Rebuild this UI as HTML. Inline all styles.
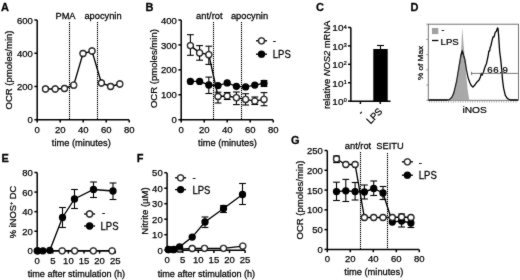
<!DOCTYPE html>
<html><head><meta charset="utf-8"><style>
html,body{margin:0;padding:0;background:#fff;}
svg{display:block;}
#w{width:520px;height:280px;will-change:transform;}
text{font-family:"Liberation Sans",sans-serif;fill:#000;stroke:#000;stroke-width:0.25;}
</style></head><body>
<div id="w">
<svg width="520" height="280" viewBox="0 0 520 280">
<defs><filter id="bl" x="0" y="0" width="520" height="280" filterUnits="userSpaceOnUse"><feConvolveMatrix order="3" kernelMatrix="1 2 1 2 28 2 1 2 1"/></filter></defs>
<rect width="520" height="280" fill="#fff"/>
<g filter="url(#bl)">
<text transform="translate(1.00,10.60) scale(1,1.06)" font-size="11" text-anchor="start" font-weight="bold" >A</text>
<line x1="37.2" y1="20" x2="37.2" y2="120.45" stroke="#000" stroke-width="1.5" />
<line x1="36.45" y1="119.7" x2="129" y2="119.7" stroke="#000" stroke-width="1.5" />
<line x1="34.400000000000006" y1="119.7" x2="37.2" y2="119.7" stroke="#000" stroke-width="1.5" />
<text transform="translate(32.80,123.30) scale(1,1.0)" font-size="9.5" text-anchor="end" font-weight="normal" >0</text>
<line x1="34.400000000000006" y1="86.46666666666667" x2="37.2" y2="86.46666666666667" stroke="#000" stroke-width="1.5" />
<text transform="translate(32.80,90.07) scale(1,1.0)" font-size="9.5" text-anchor="end" font-weight="normal" >200</text>
<line x1="34.400000000000006" y1="53.233333333333334" x2="37.2" y2="53.233333333333334" stroke="#000" stroke-width="1.5" />
<text transform="translate(32.80,56.83) scale(1,1.0)" font-size="9.5" text-anchor="end" font-weight="normal" >400</text>
<line x1="34.400000000000006" y1="20.0" x2="37.2" y2="20.0" stroke="#000" stroke-width="1.5" />
<text transform="translate(32.80,23.60) scale(1,1.0)" font-size="9.5" text-anchor="end" font-weight="normal" >600</text>
<line x1="37.2" y1="119.7" x2="37.2" y2="122.5" stroke="#000" stroke-width="1.5" />
<text transform="translate(37.20,132.70) scale(1,1.0)" font-size="9.5" text-anchor="middle" font-weight="normal" >0</text>
<line x1="60.2" y1="119.7" x2="60.2" y2="122.5" stroke="#000" stroke-width="1.5" />
<text transform="translate(60.20,132.70) scale(1,1.0)" font-size="9.5" text-anchor="middle" font-weight="normal" >20</text>
<line x1="83.2" y1="119.7" x2="83.2" y2="122.5" stroke="#000" stroke-width="1.5" />
<text transform="translate(83.20,132.70) scale(1,1.0)" font-size="9.5" text-anchor="middle" font-weight="normal" >40</text>
<line x1="106.2" y1="119.7" x2="106.2" y2="122.5" stroke="#000" stroke-width="1.5" />
<text transform="translate(106.20,132.70) scale(1,1.0)" font-size="9.5" text-anchor="middle" font-weight="normal" >60</text>
<line x1="129.2" y1="119.7" x2="129.2" y2="122.5" stroke="#000" stroke-width="1.5" />
<text transform="translate(129.20,132.70) scale(1,1.0)" font-size="9.5" text-anchor="middle" font-weight="normal" >80</text>
<text transform="translate(12.4,70) rotate(-90) scale(1,0.9)" x="0" y="0" font-size="9.55" text-anchor="middle" >OCR (pmoles/min)</text>
<text transform="translate(81.30,146.30) scale(1,1.06)" font-size="9.3" text-anchor="middle" font-weight="normal" >time (minutes)</text>
<line x1="69.5" y1="22" x2="69.5" y2="119" stroke="#000" stroke-width="1.1" stroke-dasharray="1.2 0.8"/>
<line x1="97.5" y1="22" x2="97.5" y2="119" stroke="#000" stroke-width="1.1" stroke-dasharray="1.2 0.8"/>
<text transform="translate(65.50,19.30) scale(1,1.06)" font-size="9.3" text-anchor="middle" font-weight="normal" >PMA</text>
<text transform="translate(103.00,19.30) scale(1,1.06)" font-size="9.3" text-anchor="middle" font-weight="normal" >apocynin</text>
<polyline points="45.5,89 55.2,89 64.5,88.5 73.7,85.2 83,53.5 92,51 101.4,83 110.6,86.5 119.8,84" fill="none" stroke="#000" stroke-width="1.35"/>
<circle cx="45.5" cy="89" r="3.0" fill="#fff" stroke="#000" stroke-width="1.3"/>
<circle cx="55.2" cy="89" r="3.0" fill="#fff" stroke="#000" stroke-width="1.3"/>
<circle cx="64.5" cy="88.5" r="3.0" fill="#fff" stroke="#000" stroke-width="1.3"/>
<circle cx="73.7" cy="85.2" r="3.0" fill="#fff" stroke="#000" stroke-width="1.3"/>
<circle cx="83" cy="53.5" r="3.0" fill="#fff" stroke="#000" stroke-width="1.3"/>
<circle cx="92" cy="51" r="3.0" fill="#fff" stroke="#000" stroke-width="1.3"/>
<circle cx="101.4" cy="83" r="3.0" fill="#fff" stroke="#000" stroke-width="1.3"/>
<circle cx="110.6" cy="86.5" r="3.0" fill="#fff" stroke="#000" stroke-width="1.3"/>
<circle cx="119.8" cy="84" r="3.0" fill="#fff" stroke="#000" stroke-width="1.3"/>
<text transform="translate(145.50,10.60) scale(1,1.06)" font-size="11" text-anchor="start" font-weight="bold" >B</text>
<line x1="181.2" y1="20" x2="181.2" y2="120.45" stroke="#000" stroke-width="1.5" />
<line x1="180.45" y1="119.7" x2="273" y2="119.7" stroke="#000" stroke-width="1.5" />
<line x1="178.39999999999998" y1="119.7" x2="181.2" y2="119.7" stroke="#000" stroke-width="1.5" />
<text transform="translate(176.80,123.30) scale(1,1.0)" font-size="9.5" text-anchor="end" font-weight="normal" >0</text>
<line x1="178.39999999999998" y1="94.775" x2="181.2" y2="94.775" stroke="#000" stroke-width="1.5" />
<text transform="translate(176.80,98.38) scale(1,1.0)" font-size="9.5" text-anchor="end" font-weight="normal" >100</text>
<line x1="178.39999999999998" y1="69.85" x2="181.2" y2="69.85" stroke="#000" stroke-width="1.5" />
<text transform="translate(176.80,73.45) scale(1,1.0)" font-size="9.5" text-anchor="end" font-weight="normal" >200</text>
<line x1="178.39999999999998" y1="44.925" x2="181.2" y2="44.925" stroke="#000" stroke-width="1.5" />
<text transform="translate(176.80,48.52) scale(1,1.0)" font-size="9.5" text-anchor="end" font-weight="normal" >300</text>
<line x1="178.39999999999998" y1="20.0" x2="181.2" y2="20.0" stroke="#000" stroke-width="1.5" />
<text transform="translate(176.80,23.60) scale(1,1.0)" font-size="9.5" text-anchor="end" font-weight="normal" >400</text>
<line x1="181.2" y1="119.7" x2="181.2" y2="122.5" stroke="#000" stroke-width="1.5" />
<text transform="translate(181.20,132.70) scale(1,1.0)" font-size="9.5" text-anchor="middle" font-weight="normal" >0</text>
<line x1="204.2" y1="119.7" x2="204.2" y2="122.5" stroke="#000" stroke-width="1.5" />
<text transform="translate(204.20,132.70) scale(1,1.0)" font-size="9.5" text-anchor="middle" font-weight="normal" >20</text>
<line x1="227.2" y1="119.7" x2="227.2" y2="122.5" stroke="#000" stroke-width="1.5" />
<text transform="translate(227.20,132.70) scale(1,1.0)" font-size="9.5" text-anchor="middle" font-weight="normal" >40</text>
<line x1="250.2" y1="119.7" x2="250.2" y2="122.5" stroke="#000" stroke-width="1.5" />
<text transform="translate(250.20,132.70) scale(1,1.0)" font-size="9.5" text-anchor="middle" font-weight="normal" >60</text>
<line x1="273.2" y1="119.7" x2="273.2" y2="122.5" stroke="#000" stroke-width="1.5" />
<text transform="translate(273.20,132.70) scale(1,1.0)" font-size="9.5" text-anchor="middle" font-weight="normal" >80</text>
<text transform="translate(156.8,68.6) rotate(-90) scale(1,0.9)" x="0" y="0" font-size="9.55" text-anchor="middle" >OCR (pmoles/min)</text>
<text transform="translate(227.50,146.30) scale(1,1.06)" font-size="9.3" text-anchor="middle" font-weight="normal" >time (minutes)</text>
<line x1="213.5" y1="22" x2="213.5" y2="119" stroke="#000" stroke-width="1.1" stroke-dasharray="1.2 0.8"/>
<line x1="241.5" y1="22" x2="241.5" y2="119" stroke="#000" stroke-width="1.1" stroke-dasharray="1.2 0.8"/>
<text transform="translate(209.30,19.30) scale(1,1.06)" font-size="9.3" text-anchor="middle" font-weight="normal" >ant/rot</text>
<text transform="translate(249.50,19.30) scale(1,1.06)" font-size="9.3" text-anchor="middle" font-weight="normal" >apocynin</text>
<polyline points="190.39999999999998,81.4 199.6,81.4 208.79999999999998,85 218.0,85.6 227.2,82.9 236.39999999999998,86.3 245.59999999999997,86.9 254.79999999999998,85.1 264.0,83.4" fill="none" stroke="#000" stroke-width="1.35"/>
<line x1="208.79999999999998" y1="77.1" x2="208.79999999999998" y2="93.5" stroke="#000" stroke-width="1.1" />
<line x1="205.39999999999998" y1="77.1" x2="212.2" y2="77.1" stroke="#000" stroke-width="1.1" />
<line x1="205.39999999999998" y1="93.5" x2="212.2" y2="93.5" stroke="#000" stroke-width="1.1" />
<line x1="264.0" y1="80.5" x2="264.0" y2="86.5" stroke="#000" stroke-width="1.1" />
<line x1="260.6" y1="80.5" x2="267.4" y2="80.5" stroke="#000" stroke-width="1.1" />
<line x1="260.6" y1="86.5" x2="267.4" y2="86.5" stroke="#000" stroke-width="1.1" />
<circle cx="190.39999999999998" cy="81.4" r="3.0" fill="#000" stroke="#000" stroke-width="1.3"/>
<circle cx="199.6" cy="81.4" r="3.0" fill="#000" stroke="#000" stroke-width="1.3"/>
<circle cx="208.79999999999998" cy="85" r="3.0" fill="#000" stroke="#000" stroke-width="1.3"/>
<circle cx="218.0" cy="85.6" r="3.0" fill="#000" stroke="#000" stroke-width="1.3"/>
<circle cx="227.2" cy="82.9" r="3.0" fill="#000" stroke="#000" stroke-width="1.3"/>
<circle cx="236.39999999999998" cy="86.3" r="3.0" fill="#000" stroke="#000" stroke-width="1.3"/>
<circle cx="245.59999999999997" cy="86.9" r="3.0" fill="#000" stroke="#000" stroke-width="1.3"/>
<circle cx="254.79999999999998" cy="85.1" r="3.0" fill="#000" stroke="#000" stroke-width="1.3"/>
<circle cx="264.0" cy="83.4" r="3.0" fill="#000" stroke="#000" stroke-width="1.3"/>
<polyline points="190.39999999999998,45.6 199.6,52.9 208.79999999999998,54.7 218.0,96.5 227.2,96 236.39999999999998,97.7 245.59999999999997,99.4 254.79999999999998,101.1 264.0,99.4" fill="none" stroke="#000" stroke-width="1.35"/>
<line x1="190.39999999999998" y1="34.7" x2="190.39999999999998" y2="55.3" stroke="#000" stroke-width="1.1" />
<line x1="186.99999999999997" y1="34.7" x2="193.79999999999998" y2="34.7" stroke="#000" stroke-width="1.1" />
<line x1="186.99999999999997" y1="55.3" x2="193.79999999999998" y2="55.3" stroke="#000" stroke-width="1.1" />
<line x1="199.6" y1="45.6" x2="199.6" y2="60.2" stroke="#000" stroke-width="1.1" />
<line x1="196.2" y1="45.6" x2="203.0" y2="45.6" stroke="#000" stroke-width="1.1" />
<line x1="196.2" y1="60.2" x2="203.0" y2="60.2" stroke="#000" stroke-width="1.1" />
<line x1="208.79999999999998" y1="46.2" x2="208.79999999999998" y2="64.4" stroke="#000" stroke-width="1.1" />
<line x1="205.39999999999998" y1="46.2" x2="212.2" y2="46.2" stroke="#000" stroke-width="1.1" />
<line x1="205.39999999999998" y1="64.4" x2="212.2" y2="64.4" stroke="#000" stroke-width="1.1" />
<line x1="218.0" y1="92.2" x2="218.0" y2="103" stroke="#000" stroke-width="1.1" />
<line x1="214.6" y1="92.2" x2="221.4" y2="92.2" stroke="#000" stroke-width="1.1" />
<line x1="214.6" y1="103" x2="221.4" y2="103" stroke="#000" stroke-width="1.1" />
<line x1="227.2" y1="92.5" x2="227.2" y2="99.5" stroke="#000" stroke-width="1.1" />
<line x1="223.79999999999998" y1="92.5" x2="230.6" y2="92.5" stroke="#000" stroke-width="1.1" />
<line x1="223.79999999999998" y1="99.5" x2="230.6" y2="99.5" stroke="#000" stroke-width="1.1" />
<line x1="236.39999999999998" y1="92" x2="236.39999999999998" y2="104.6" stroke="#000" stroke-width="1.1" />
<line x1="232.99999999999997" y1="92" x2="239.79999999999998" y2="92" stroke="#000" stroke-width="1.1" />
<line x1="232.99999999999997" y1="104.6" x2="239.79999999999998" y2="104.6" stroke="#000" stroke-width="1.1" />
<line x1="245.59999999999997" y1="93.7" x2="245.59999999999997" y2="105" stroke="#000" stroke-width="1.1" />
<line x1="242.19999999999996" y1="93.7" x2="248.99999999999997" y2="93.7" stroke="#000" stroke-width="1.1" />
<line x1="242.19999999999996" y1="105" x2="248.99999999999997" y2="105" stroke="#000" stroke-width="1.1" />
<line x1="254.79999999999998" y1="97" x2="254.79999999999998" y2="104.5" stroke="#000" stroke-width="1.1" />
<line x1="251.39999999999998" y1="97" x2="258.2" y2="97" stroke="#000" stroke-width="1.1" />
<line x1="251.39999999999998" y1="104.5" x2="258.2" y2="104.5" stroke="#000" stroke-width="1.1" />
<line x1="264.0" y1="92.6" x2="264.0" y2="105.7" stroke="#000" stroke-width="1.1" />
<line x1="260.6" y1="92.6" x2="267.4" y2="92.6" stroke="#000" stroke-width="1.1" />
<line x1="260.6" y1="105.7" x2="267.4" y2="105.7" stroke="#000" stroke-width="1.1" />
<circle cx="190.39999999999998" cy="45.6" r="3.0" fill="#fff" stroke="#000" stroke-width="1.3"/>
<circle cx="199.6" cy="52.9" r="3.0" fill="#fff" stroke="#000" stroke-width="1.3"/>
<circle cx="208.79999999999998" cy="54.7" r="3.0" fill="#fff" stroke="#000" stroke-width="1.3"/>
<circle cx="218.0" cy="96.5" r="3.0" fill="#fff" stroke="#000" stroke-width="1.3"/>
<circle cx="227.2" cy="96" r="3.0" fill="#fff" stroke="#000" stroke-width="1.3"/>
<circle cx="236.39999999999998" cy="97.7" r="3.0" fill="#fff" stroke="#000" stroke-width="1.3"/>
<circle cx="245.59999999999997" cy="99.4" r="3.0" fill="#fff" stroke="#000" stroke-width="1.3"/>
<circle cx="254.79999999999998" cy="101.1" r="3.0" fill="#fff" stroke="#000" stroke-width="1.3"/>
<circle cx="264.0" cy="99.4" r="3.0" fill="#fff" stroke="#000" stroke-width="1.3"/>
<line x1="256.0" y1="40.8" x2="267.0" y2="40.8" stroke="#000" stroke-width="1.35" />
<circle cx="261.5" cy="40.8" r="3.0" fill="#fff" stroke="#000" stroke-width="1.3"/>
<line x1="256.0" y1="54.2" x2="267.0" y2="54.2" stroke="#000" stroke-width="1.35" />
<circle cx="261.5" cy="54.2" r="3.0" fill="#000" stroke="#000" stroke-width="1.3"/>
<text transform="translate(272.80,44.20) scale(1,1.06)" font-size="9.5" text-anchor="start" font-weight="normal" >-</text>
<text transform="translate(272.80,57.80) scale(1,1.06)" font-size="9.5" text-anchor="start" font-weight="normal" >LPS</text>
<text transform="translate(315.90,10.90) scale(1,1.06)" font-size="11" text-anchor="start" font-weight="bold" >C</text>
<line x1="350.85" y1="27.47" x2="350.85" y2="101.9" stroke="#000" stroke-width="1.5" />
<line x1="350.1" y1="101.15" x2="390.5" y2="101.15" stroke="#000" stroke-width="1.5" />
<line x1="348.05" y1="101.15" x2="350.85" y2="101.15" stroke="#000" stroke-width="1.5" />
<text transform="translate(343.45,105.15) scale(1,0.93)" font-size="10" text-anchor="end" font-weight="normal" >10</text>
<text transform="translate(343.75,102.25) scale(1,0.9)" font-size="5.4" text-anchor="start" font-weight="normal" >0</text>
<line x1="348.05" y1="82.73" x2="350.85" y2="82.73" stroke="#000" stroke-width="1.5" />
<text transform="translate(343.45,86.73) scale(1,0.93)" font-size="10" text-anchor="end" font-weight="normal" >10</text>
<text transform="translate(343.75,83.83) scale(1,0.9)" font-size="5.4" text-anchor="start" font-weight="normal" >1</text>
<line x1="348.05" y1="64.31" x2="350.85" y2="64.31" stroke="#000" stroke-width="1.5" />
<text transform="translate(343.45,68.31) scale(1,0.93)" font-size="10" text-anchor="end" font-weight="normal" >10</text>
<text transform="translate(343.75,65.41) scale(1,0.9)" font-size="5.4" text-anchor="start" font-weight="normal" >2</text>
<line x1="348.05" y1="45.89" x2="350.85" y2="45.89" stroke="#000" stroke-width="1.5" />
<text transform="translate(343.45,49.89) scale(1,0.93)" font-size="10" text-anchor="end" font-weight="normal" >10</text>
<text transform="translate(343.75,46.99) scale(1,0.9)" font-size="5.4" text-anchor="start" font-weight="normal" >3</text>
<line x1="348.05" y1="27.47" x2="350.85" y2="27.47" stroke="#000" stroke-width="1.5" />
<text transform="translate(343.45,31.47) scale(1,0.93)" font-size="10" text-anchor="end" font-weight="normal" >10</text>
<text transform="translate(343.75,28.57) scale(1,0.9)" font-size="5.4" text-anchor="start" font-weight="normal" >4</text>
<line x1="360.4" y1="101.15" x2="360.4" y2="103.95" stroke="#000" stroke-width="1.5" />
<line x1="380.3" y1="101.15" x2="380.3" y2="103.95" stroke="#000" stroke-width="1.5" />
<rect x="373.3" y="49" width="14.4" height="52.150000000000006" fill="#000"/>
<line x1="380.5" y1="45.5" x2="380.5" y2="49" stroke="#000" stroke-width="1.1" />
<line x1="377" y1="45.5" x2="384" y2="45.5" stroke="#000" stroke-width="1.1" />
<text transform="translate(329.8,64.9) rotate(-90) scale(1,0.92)" font-size="9.35" text-anchor="middle">relative <tspan font-style="italic">NOS2</tspan> mRNA</text>
<text transform="translate(364,113.5) rotate(-45) scale(1,1.06)" font-size="9.3" text-anchor="end">-</text>
<text transform="translate(383,112) rotate(-45) scale(1,1.06)" font-size="9.3" text-anchor="end">LPS</text>
<text transform="translate(410.60,10.70) scale(1,1.06)" font-size="11" text-anchor="start" font-weight="bold" >D</text>
<rect x="428.3" y="24.2" width="90.2" height="76.1" fill="none" stroke="#666" stroke-width="0.9"/>
<path d="M449.8,100.3 L452.5,96 L455,90 L457,82 L459,70 L460.5,58 L461.5,44 L462.3,27.2 L463.2,40 L464.2,52 L465.2,64 L466.3,76 L467.7,90 L469.3,100.3 Z" fill="#a9a9a9"/>
<path d="M428.5,100 L446,100 L449.4,99.6 L452,97 L453.8,93.1 L456.5,82 L458.7,68.8 L460.9,55.5 L462.3,50.6 L463.6,55.5 L464.9,59.9 L466.2,68.8 L468,77.6 L469.8,82.5 L471.1,85.3 L472.9,87.1 L474.6,85.3 L476.8,82.2 L479.1,80 L480.4,76.9 L481.3,73.4 L482.2,75.1 L483.5,72 L484.8,67.6 L486.6,63.2 L487.5,58.8 L488.4,54.3 L488.8,51.2 L489.7,50.8 L490.1,47.7 L491,45.5 L491.9,41.1 L493,37 L494.1,36.8 L495.2,32.4 L496.4,31.2 L497.5,27.9 L498,28.5 L498.6,35.1 L499.1,43.5 L499.7,51.9 L500.8,60.2 L501.9,71.4 L502.5,79.7 L503.6,88.1 L505.3,95.3 L507.5,98.7 L510.3,100 L518,100" fill="none" stroke="#000" stroke-width="1.3" stroke-linejoin="round"/>
<line x1="426.3" y1="100.30" x2="428.3" y2="100.30" stroke="#777" stroke-width="0.8"/>
<line x1="426.3" y1="85.08" x2="428.3" y2="85.08" stroke="#777" stroke-width="0.8"/>
<line x1="426.3" y1="69.86" x2="428.3" y2="69.86" stroke="#777" stroke-width="0.8"/>
<line x1="426.3" y1="54.64" x2="428.3" y2="54.64" stroke="#777" stroke-width="0.8"/>
<line x1="426.3" y1="39.42" x2="428.3" y2="39.42" stroke="#777" stroke-width="0.8"/>
<line x1="426.3" y1="24.20" x2="428.3" y2="24.20" stroke="#777" stroke-width="0.8"/>
<line x1="429" y1="101.9" x2="518" y2="101.9" stroke="#888" stroke-width="1.2" stroke-dasharray="0.8 1.6"/>
<line x1="471.6" y1="73.4" x2="517.9" y2="73.4" stroke="#555" stroke-width="0.8"/>
<line x1="471.6" y1="71.8" x2="471.6" y2="75.1" stroke="#555" stroke-width="0.8"/>
<text transform="translate(487.30,72.90) scale(1,0.93)" font-size="9.6" text-anchor="start" font-weight="normal" letter-spacing="0.6">66.9</text>
<rect x="432" y="28" width="6.3" height="6.1" fill="#a0a0a0"/>
<text transform="translate(441.50,33.20) scale(1,1.06)" font-size="8.5" text-anchor="start" font-weight="normal" >-</text>
<line x1="432" y1="40.5" x2="438.4" y2="40.5" stroke="#000" stroke-width="1.3" />
<text transform="translate(440.60,44.60) scale(1,0.93)" font-size="9.6" text-anchor="start" font-weight="normal" >LPS</text>
<text transform="translate(474.60,112.70) scale(1,0.95)" font-size="10.2" text-anchor="middle" font-weight="normal" >iNOS</text>
<text transform="translate(423.2,63) rotate(-90) scale(1,0.95)" x="0" y="0" font-size="8.2" text-anchor="middle" >% of Max</text>
<text transform="translate(1.50,162.00) scale(1,1.06)" font-size="11" text-anchor="start" font-weight="bold" >E</text>
<line x1="37.2" y1="172.5" x2="37.2" y2="251.55" stroke="#000" stroke-width="1.5" />
<line x1="36.45" y1="250.8" x2="115" y2="250.8" stroke="#000" stroke-width="1.5" />
<line x1="34.400000000000006" y1="250.8" x2="37.2" y2="250.8" stroke="#000" stroke-width="1.5" />
<text transform="translate(32.80,254.40) scale(1,1.0)" font-size="9.5" text-anchor="end" font-weight="normal" >0</text>
<line x1="34.400000000000006" y1="231.22500000000002" x2="37.2" y2="231.22500000000002" stroke="#000" stroke-width="1.5" />
<text transform="translate(32.80,234.83) scale(1,1.0)" font-size="9.5" text-anchor="end" font-weight="normal" >20</text>
<line x1="34.400000000000006" y1="211.65" x2="37.2" y2="211.65" stroke="#000" stroke-width="1.5" />
<text transform="translate(32.80,215.25) scale(1,1.0)" font-size="9.5" text-anchor="end" font-weight="normal" >40</text>
<line x1="34.400000000000006" y1="192.07500000000002" x2="37.2" y2="192.07500000000002" stroke="#000" stroke-width="1.5" />
<text transform="translate(32.80,195.68) scale(1,1.0)" font-size="9.5" text-anchor="end" font-weight="normal" >60</text>
<line x1="34.400000000000006" y1="172.5" x2="37.2" y2="172.5" stroke="#000" stroke-width="1.5" />
<text transform="translate(32.80,176.10) scale(1,1.0)" font-size="9.5" text-anchor="end" font-weight="normal" >80</text>
<line x1="37.2" y1="250.8" x2="37.2" y2="253.60000000000002" stroke="#000" stroke-width="1.5" />
<text transform="translate(37.20,263.80) scale(1,1.0)" font-size="9.5" text-anchor="middle" font-weight="normal" >0</text>
<line x1="52.800000000000004" y1="250.8" x2="52.800000000000004" y2="253.60000000000002" stroke="#000" stroke-width="1.5" />
<text transform="translate(52.80,263.80) scale(1,1.0)" font-size="9.5" text-anchor="middle" font-weight="normal" >5</text>
<line x1="68.4" y1="250.8" x2="68.4" y2="253.60000000000002" stroke="#000" stroke-width="1.5" />
<text transform="translate(68.40,263.80) scale(1,1.0)" font-size="9.5" text-anchor="middle" font-weight="normal" >10</text>
<line x1="84.0" y1="250.8" x2="84.0" y2="253.60000000000002" stroke="#000" stroke-width="1.5" />
<text transform="translate(84.00,263.80) scale(1,1.0)" font-size="9.5" text-anchor="middle" font-weight="normal" >15</text>
<line x1="99.60000000000001" y1="250.8" x2="99.60000000000001" y2="253.60000000000002" stroke="#000" stroke-width="1.5" />
<text transform="translate(99.60,263.80) scale(1,1.0)" font-size="9.5" text-anchor="middle" font-weight="normal" >20</text>
<line x1="115.2" y1="250.8" x2="115.2" y2="253.60000000000002" stroke="#000" stroke-width="1.5" />
<text transform="translate(115.20,263.80) scale(1,1.0)" font-size="9.5" text-anchor="middle" font-weight="normal" >25</text>
<text transform="translate(16.0,212) rotate(-90) scale(1,1.06)" font-size="9.3" text-anchor="middle">% iNOS<tspan font-size="5.5" dy="-3.2">+</tspan><tspan dy="3.2"> DC</tspan></text>
<text transform="translate(76.40,277.00) scale(1,1.06)" font-size="9.1" text-anchor="middle" font-weight="normal" >time after stimulation (h)</text>
<polyline points="37.2,250.8 62.160000000000004,250.8 74.64,250.8 93.36000000000001,250.8 112.08,250.8" fill="none" stroke="#000" stroke-width="1.35"/>
<circle cx="37.2" cy="250.8" r="3.0" fill="#fff" stroke="#000" stroke-width="1.3"/>
<circle cx="62.160000000000004" cy="250.8" r="3.0" fill="#fff" stroke="#000" stroke-width="1.3"/>
<circle cx="74.64" cy="250.8" r="3.0" fill="#fff" stroke="#000" stroke-width="1.3"/>
<circle cx="93.36000000000001" cy="250.8" r="3.0" fill="#fff" stroke="#000" stroke-width="1.3"/>
<circle cx="112.08" cy="250.8" r="3.0" fill="#fff" stroke="#000" stroke-width="1.3"/>
<polyline points="37.8,250.8 42.9,250.8 49.8,250.3 62.5,217.5 74.5,199 93.5,189.5 113,191" fill="none" stroke="#000" stroke-width="1.35"/>
<line x1="62.5" y1="207.5" x2="62.5" y2="227.5" stroke="#000" stroke-width="1.1" />
<line x1="59.1" y1="207.5" x2="65.9" y2="207.5" stroke="#000" stroke-width="1.1" />
<line x1="59.1" y1="227.5" x2="65.9" y2="227.5" stroke="#000" stroke-width="1.1" />
<line x1="74.5" y1="189.5" x2="74.5" y2="208.5" stroke="#000" stroke-width="1.1" />
<line x1="71.1" y1="189.5" x2="77.9" y2="189.5" stroke="#000" stroke-width="1.1" />
<line x1="71.1" y1="208.5" x2="77.9" y2="208.5" stroke="#000" stroke-width="1.1" />
<line x1="93.5" y1="182" x2="93.5" y2="197.5" stroke="#000" stroke-width="1.1" />
<line x1="90.1" y1="182" x2="96.9" y2="182" stroke="#000" stroke-width="1.1" />
<line x1="90.1" y1="197.5" x2="96.9" y2="197.5" stroke="#000" stroke-width="1.1" />
<line x1="113" y1="183" x2="113" y2="199.5" stroke="#000" stroke-width="1.1" />
<line x1="109.6" y1="183" x2="116.4" y2="183" stroke="#000" stroke-width="1.1" />
<line x1="109.6" y1="199.5" x2="116.4" y2="199.5" stroke="#000" stroke-width="1.1" />
<circle cx="37.8" cy="250.8" r="3.0" fill="#000" stroke="#000" stroke-width="1.3"/>
<circle cx="42.9" cy="250.8" r="3.0" fill="#000" stroke="#000" stroke-width="1.3"/>
<circle cx="49.8" cy="250.3" r="3.0" fill="#000" stroke="#000" stroke-width="1.3"/>
<circle cx="62.5" cy="217.5" r="3.0" fill="#000" stroke="#000" stroke-width="1.3"/>
<circle cx="74.5" cy="199" r="3.0" fill="#000" stroke="#000" stroke-width="1.3"/>
<circle cx="93.5" cy="189.5" r="3.0" fill="#000" stroke="#000" stroke-width="1.3"/>
<circle cx="113" cy="191" r="3.0" fill="#000" stroke="#000" stroke-width="1.3"/>
<line x1="84.1" y1="214" x2="95.1" y2="214" stroke="#000" stroke-width="1.35" />
<circle cx="89.6" cy="214" r="3.0" fill="#fff" stroke="#000" stroke-width="1.3"/>
<line x1="84.1" y1="226" x2="95.1" y2="226" stroke="#000" stroke-width="1.35" />
<circle cx="89.6" cy="226" r="3.0" fill="#000" stroke="#000" stroke-width="1.3"/>
<text transform="translate(101.90,216.40) scale(1,1.06)" font-size="9.5" text-anchor="start" font-weight="normal" >-</text>
<text transform="translate(100.60,229.50) scale(1,1.06)" font-size="9.5" text-anchor="start" font-weight="normal" >LPS</text>
<text transform="translate(136.80,161.90) scale(1,1.06)" font-size="11" text-anchor="start" font-weight="bold" >F</text>
<line x1="167.1" y1="173" x2="167.1" y2="250.95" stroke="#000" stroke-width="1.5" />
<line x1="166.35" y1="250.2" x2="245" y2="250.2" stroke="#000" stroke-width="1.5" />
<line x1="164.29999999999998" y1="250.2" x2="167.1" y2="250.2" stroke="#000" stroke-width="1.5" />
<text transform="translate(162.70,253.80) scale(1,1.0)" font-size="9.5" text-anchor="end" font-weight="normal" >0</text>
<line x1="164.29999999999998" y1="234.7" x2="167.1" y2="234.7" stroke="#000" stroke-width="1.5" />
<text transform="translate(162.70,238.30) scale(1,1.0)" font-size="9.5" text-anchor="end" font-weight="normal" >10</text>
<line x1="164.29999999999998" y1="219.2" x2="167.1" y2="219.2" stroke="#000" stroke-width="1.5" />
<text transform="translate(162.70,222.80) scale(1,1.0)" font-size="9.5" text-anchor="end" font-weight="normal" >20</text>
<line x1="164.29999999999998" y1="203.7" x2="167.1" y2="203.7" stroke="#000" stroke-width="1.5" />
<text transform="translate(162.70,207.30) scale(1,1.0)" font-size="9.5" text-anchor="end" font-weight="normal" >30</text>
<line x1="164.29999999999998" y1="188.2" x2="167.1" y2="188.2" stroke="#000" stroke-width="1.5" />
<text transform="translate(162.70,191.80) scale(1,1.0)" font-size="9.5" text-anchor="end" font-weight="normal" >40</text>
<line x1="164.29999999999998" y1="172.7" x2="167.1" y2="172.7" stroke="#000" stroke-width="1.5" />
<text transform="translate(162.70,176.30) scale(1,1.0)" font-size="9.5" text-anchor="end" font-weight="normal" >50</text>
<line x1="167.1" y1="250.2" x2="167.1" y2="253.0" stroke="#000" stroke-width="1.5" />
<text transform="translate(167.10,263.20) scale(1,1.0)" font-size="9.5" text-anchor="middle" font-weight="normal" >0</text>
<line x1="182.7" y1="250.2" x2="182.7" y2="253.0" stroke="#000" stroke-width="1.5" />
<text transform="translate(182.70,263.20) scale(1,1.0)" font-size="9.5" text-anchor="middle" font-weight="normal" >5</text>
<line x1="198.3" y1="250.2" x2="198.3" y2="253.0" stroke="#000" stroke-width="1.5" />
<text transform="translate(198.30,263.20) scale(1,1.0)" font-size="9.5" text-anchor="middle" font-weight="normal" >10</text>
<line x1="213.9" y1="250.2" x2="213.9" y2="253.0" stroke="#000" stroke-width="1.5" />
<text transform="translate(213.90,263.20) scale(1,1.0)" font-size="9.5" text-anchor="middle" font-weight="normal" >15</text>
<line x1="229.5" y1="250.2" x2="229.5" y2="253.0" stroke="#000" stroke-width="1.5" />
<text transform="translate(229.50,263.20) scale(1,1.0)" font-size="9.5" text-anchor="middle" font-weight="normal" >20</text>
<line x1="245.1" y1="250.2" x2="245.1" y2="253.0" stroke="#000" stroke-width="1.5" />
<text transform="translate(245.10,263.20) scale(1,1.0)" font-size="9.5" text-anchor="middle" font-weight="normal" >25</text>
<text transform="translate(148.1,211) rotate(-90) scale(1,0.95)" x="0" y="0" font-size="9.55" text-anchor="middle" >Nitrite (µM)</text>
<text transform="translate(206.40,277.00) scale(1,1.06)" font-size="9.1" text-anchor="middle" font-weight="normal" >time after stimulation (h)</text>
<polyline points="168.3,249.6 173.1,249.6 179.6,249.2 192.2,248.5 204.5,248.3 223.5,248.3 242.8,246.1" fill="none" stroke="#000" stroke-width="1.35"/>
<circle cx="168.3" cy="249.6" r="3.0" fill="#fff" stroke="#000" stroke-width="1.3"/>
<circle cx="173.1" cy="249.6" r="3.0" fill="#fff" stroke="#000" stroke-width="1.3"/>
<circle cx="179.6" cy="249.2" r="3.0" fill="#fff" stroke="#000" stroke-width="1.3"/>
<circle cx="192.2" cy="248.5" r="3.0" fill="#fff" stroke="#000" stroke-width="1.3"/>
<circle cx="204.5" cy="248.3" r="3.0" fill="#fff" stroke="#000" stroke-width="1.3"/>
<circle cx="223.5" cy="248.3" r="3.0" fill="#fff" stroke="#000" stroke-width="1.3"/>
<circle cx="242.8" cy="246.1" r="3.0" fill="#fff" stroke="#000" stroke-width="1.3"/>
<polyline points="168.5,249.5 174,249.5 179.6,246.9 192.2,237.1 205,222 223.5,208.5 242.5,194.5" fill="none" stroke="#000" stroke-width="1.35"/>
<line x1="205" y1="217" x2="205" y2="227.5" stroke="#000" stroke-width="1.1" />
<line x1="201.6" y1="217" x2="208.4" y2="217" stroke="#000" stroke-width="1.1" />
<line x1="201.6" y1="227.5" x2="208.4" y2="227.5" stroke="#000" stroke-width="1.1" />
<line x1="223.5" y1="205.5" x2="223.5" y2="212.5" stroke="#000" stroke-width="1.1" />
<line x1="220.1" y1="205.5" x2="226.9" y2="205.5" stroke="#000" stroke-width="1.1" />
<line x1="220.1" y1="212.5" x2="226.9" y2="212.5" stroke="#000" stroke-width="1.1" />
<line x1="242.5" y1="183.5" x2="242.5" y2="204.5" stroke="#000" stroke-width="1.1" />
<line x1="239.1" y1="183.5" x2="245.9" y2="183.5" stroke="#000" stroke-width="1.1" />
<line x1="239.1" y1="204.5" x2="245.9" y2="204.5" stroke="#000" stroke-width="1.1" />
<circle cx="168.5" cy="249.5" r="3.0" fill="#000" stroke="#000" stroke-width="1.3"/>
<circle cx="174" cy="249.5" r="3.0" fill="#000" stroke="#000" stroke-width="1.3"/>
<circle cx="179.6" cy="246.9" r="3.0" fill="#000" stroke="#000" stroke-width="1.3"/>
<circle cx="192.2" cy="237.1" r="3.0" fill="#000" stroke="#000" stroke-width="1.3"/>
<circle cx="205" cy="222" r="3.0" fill="#000" stroke="#000" stroke-width="1.3"/>
<circle cx="223.5" cy="208.5" r="3.0" fill="#000" stroke="#000" stroke-width="1.3"/>
<circle cx="242.5" cy="194.5" r="3.0" fill="#000" stroke="#000" stroke-width="1.3"/>
<line x1="175.1" y1="177.8" x2="186.1" y2="177.8" stroke="#000" stroke-width="1.35" />
<circle cx="180.6" cy="177.8" r="3.0" fill="#fff" stroke="#000" stroke-width="1.3"/>
<line x1="175.1" y1="189.6" x2="186.1" y2="189.6" stroke="#000" stroke-width="1.35" />
<circle cx="180.6" cy="189.6" r="3.0" fill="#000" stroke="#000" stroke-width="1.3"/>
<text transform="translate(192.40,181.40) scale(1,1.06)" font-size="9.5" text-anchor="start" font-weight="normal" >-</text>
<text transform="translate(192.40,193.50) scale(1,1.06)" font-size="9.5" text-anchor="start" font-weight="normal" >LPS</text>
<text transform="translate(291.00,143.70) scale(1,1.06)" font-size="11" text-anchor="start" font-weight="bold" >G</text>
<line x1="327.3" y1="150.5" x2="327.3" y2="250.15" stroke="#000" stroke-width="1.5" />
<line x1="326.55" y1="249.4" x2="419" y2="249.4" stroke="#000" stroke-width="1.5" />
<line x1="324.5" y1="249.4" x2="327.3" y2="249.4" stroke="#000" stroke-width="1.5" />
<text transform="translate(322.90,253.00) scale(1,1.0)" font-size="9.5" text-anchor="end" font-weight="normal" >0</text>
<line x1="324.5" y1="229.62" x2="327.3" y2="229.62" stroke="#000" stroke-width="1.5" />
<text transform="translate(322.90,233.22) scale(1,1.0)" font-size="9.5" text-anchor="end" font-weight="normal" >50</text>
<line x1="324.5" y1="209.84" x2="327.3" y2="209.84" stroke="#000" stroke-width="1.5" />
<text transform="translate(322.90,213.44) scale(1,1.0)" font-size="9.5" text-anchor="end" font-weight="normal" >100</text>
<line x1="324.5" y1="190.06" x2="327.3" y2="190.06" stroke="#000" stroke-width="1.5" />
<text transform="translate(322.90,193.66) scale(1,1.0)" font-size="9.5" text-anchor="end" font-weight="normal" >150</text>
<line x1="324.5" y1="170.28" x2="327.3" y2="170.28" stroke="#000" stroke-width="1.5" />
<text transform="translate(322.90,173.88) scale(1,1.0)" font-size="9.5" text-anchor="end" font-weight="normal" >200</text>
<line x1="324.5" y1="150.5" x2="327.3" y2="150.5" stroke="#000" stroke-width="1.5" />
<text transform="translate(322.90,154.10) scale(1,1.0)" font-size="9.5" text-anchor="end" font-weight="normal" >250</text>
<line x1="327.3" y1="249.4" x2="327.3" y2="252.20000000000002" stroke="#000" stroke-width="1.5" />
<text transform="translate(327.30,262.40) scale(1,1.0)" font-size="9.5" text-anchor="middle" font-weight="normal" >0</text>
<line x1="350.3" y1="249.4" x2="350.3" y2="252.20000000000002" stroke="#000" stroke-width="1.5" />
<text transform="translate(350.30,262.40) scale(1,1.0)" font-size="9.5" text-anchor="middle" font-weight="normal" >20</text>
<line x1="373.3" y1="249.4" x2="373.3" y2="252.20000000000002" stroke="#000" stroke-width="1.5" />
<text transform="translate(373.30,262.40) scale(1,1.0)" font-size="9.5" text-anchor="middle" font-weight="normal" >40</text>
<line x1="396.3" y1="249.4" x2="396.3" y2="252.20000000000002" stroke="#000" stroke-width="1.5" />
<text transform="translate(396.30,262.40) scale(1,1.0)" font-size="9.5" text-anchor="middle" font-weight="normal" >60</text>
<line x1="419.3" y1="249.4" x2="419.3" y2="252.20000000000002" stroke="#000" stroke-width="1.5" />
<text transform="translate(419.30,262.40) scale(1,1.0)" font-size="9.5" text-anchor="middle" font-weight="normal" >80</text>
<text transform="translate(302.6,200) rotate(-90) scale(1,0.95)" x="0" y="0" font-size="9.55" text-anchor="middle" >OCR (pmoles/min)</text>
<text transform="translate(373.80,275.30) scale(1,1.06)" font-size="9.3" text-anchor="middle" font-weight="normal" >time (minutes)</text>
<line x1="360.5" y1="152" x2="360.5" y2="249" stroke="#000" stroke-width="1.1" stroke-dasharray="1.2 0.8"/>
<line x1="387.5" y1="153" x2="387.5" y2="249" stroke="#000" stroke-width="1.1" stroke-dasharray="1.2 0.8"/>
<text transform="translate(358.00,149.00) scale(1,1.06)" font-size="9.3" text-anchor="middle" font-weight="normal" >ant/rot</text>
<text transform="translate(390.00,149.00) scale(1,1.06)" font-size="9.3" text-anchor="middle" font-weight="normal" >SEITU</text>
<polyline points="336.5,191.6 345.8,190.8 355.1,191.6 364.4,192 373.7,188.5 383.0,193 392.3,222 401.6,221 410.9,223" fill="none" stroke="#000" stroke-width="1.35"/>
<line x1="336.5" y1="182.2" x2="336.5" y2="200.5" stroke="#000" stroke-width="1.1" />
<line x1="333.1" y1="182.2" x2="339.9" y2="182.2" stroke="#000" stroke-width="1.1" />
<line x1="333.1" y1="200.5" x2="339.9" y2="200.5" stroke="#000" stroke-width="1.1" />
<line x1="345.8" y1="179.4" x2="345.8" y2="201.5" stroke="#000" stroke-width="1.1" />
<line x1="342.40000000000003" y1="179.4" x2="349.2" y2="179.4" stroke="#000" stroke-width="1.1" />
<line x1="342.40000000000003" y1="201.5" x2="349.2" y2="201.5" stroke="#000" stroke-width="1.1" />
<line x1="355.1" y1="182.5" x2="355.1" y2="200" stroke="#000" stroke-width="1.1" />
<line x1="351.70000000000005" y1="182.5" x2="358.5" y2="182.5" stroke="#000" stroke-width="1.1" />
<line x1="351.70000000000005" y1="200" x2="358.5" y2="200" stroke="#000" stroke-width="1.1" />
<line x1="364.4" y1="185" x2="364.4" y2="199" stroke="#000" stroke-width="1.1" />
<line x1="361.0" y1="185" x2="367.79999999999995" y2="185" stroke="#000" stroke-width="1.1" />
<line x1="361.0" y1="199" x2="367.79999999999995" y2="199" stroke="#000" stroke-width="1.1" />
<line x1="373.7" y1="181" x2="373.7" y2="195.5" stroke="#000" stroke-width="1.1" />
<line x1="370.3" y1="181" x2="377.09999999999997" y2="181" stroke="#000" stroke-width="1.1" />
<line x1="370.3" y1="195.5" x2="377.09999999999997" y2="195.5" stroke="#000" stroke-width="1.1" />
<line x1="383.0" y1="186.5" x2="383.0" y2="199.5" stroke="#000" stroke-width="1.1" />
<line x1="379.6" y1="186.5" x2="386.4" y2="186.5" stroke="#000" stroke-width="1.1" />
<line x1="379.6" y1="199.5" x2="386.4" y2="199.5" stroke="#000" stroke-width="1.1" />
<line x1="401.6" y1="214" x2="401.6" y2="227" stroke="#000" stroke-width="1.1" />
<line x1="398.20000000000005" y1="214" x2="405.0" y2="214" stroke="#000" stroke-width="1.1" />
<line x1="398.20000000000005" y1="227" x2="405.0" y2="227" stroke="#000" stroke-width="1.1" />
<line x1="410.9" y1="218" x2="410.9" y2="227.5" stroke="#000" stroke-width="1.1" />
<line x1="407.5" y1="218" x2="414.29999999999995" y2="218" stroke="#000" stroke-width="1.1" />
<line x1="407.5" y1="227.5" x2="414.29999999999995" y2="227.5" stroke="#000" stroke-width="1.1" />
<circle cx="336.5" cy="191.6" r="3.0" fill="#000" stroke="#000" stroke-width="1.3"/>
<circle cx="345.8" cy="190.8" r="3.0" fill="#000" stroke="#000" stroke-width="1.3"/>
<circle cx="355.1" cy="191.6" r="3.0" fill="#000" stroke="#000" stroke-width="1.3"/>
<circle cx="364.4" cy="192" r="3.0" fill="#000" stroke="#000" stroke-width="1.3"/>
<circle cx="373.7" cy="188.5" r="3.0" fill="#000" stroke="#000" stroke-width="1.3"/>
<circle cx="383.0" cy="193" r="3.0" fill="#000" stroke="#000" stroke-width="1.3"/>
<circle cx="392.3" cy="222" r="3.0" fill="#000" stroke="#000" stroke-width="1.3"/>
<circle cx="401.6" cy="221" r="3.0" fill="#000" stroke="#000" stroke-width="1.3"/>
<circle cx="410.9" cy="223" r="3.0" fill="#000" stroke="#000" stroke-width="1.3"/>
<polyline points="336.5,159 345.8,164.5 355.1,164.5 364.4,217.5 373.7,217.5 383.0,217.5 392.3,217.5 401.6,217 410.9,217.5" fill="none" stroke="#000" stroke-width="1.35"/>
<line x1="336.5" y1="156.0" x2="336.5" y2="162.6" stroke="#000" stroke-width="1.1" />
<line x1="333.1" y1="156.0" x2="339.9" y2="156.0" stroke="#000" stroke-width="1.1" />
<line x1="333.1" y1="162.6" x2="339.9" y2="162.6" stroke="#000" stroke-width="1.1" />
<circle cx="336.5" cy="159" r="3.0" fill="#fff" stroke="#000" stroke-width="1.3"/>
<circle cx="345.8" cy="164.5" r="3.0" fill="#fff" stroke="#000" stroke-width="1.3"/>
<circle cx="355.1" cy="164.5" r="3.0" fill="#fff" stroke="#000" stroke-width="1.3"/>
<circle cx="364.4" cy="217.5" r="3.0" fill="#fff" stroke="#000" stroke-width="1.3"/>
<circle cx="373.7" cy="217.5" r="3.0" fill="#fff" stroke="#000" stroke-width="1.3"/>
<circle cx="383.0" cy="217.5" r="3.0" fill="#fff" stroke="#000" stroke-width="1.3"/>
<circle cx="392.3" cy="217.5" r="3.0" fill="#fff" stroke="#000" stroke-width="1.3"/>
<circle cx="401.6" cy="217" r="3.0" fill="#fff" stroke="#000" stroke-width="1.3"/>
<circle cx="410.9" cy="217.5" r="3.0" fill="#fff" stroke="#000" stroke-width="1.3"/>
<line x1="401.9" y1="161.8" x2="412.9" y2="161.8" stroke="#000" stroke-width="1.35" />
<circle cx="407.4" cy="161.8" r="3.0" fill="#fff" stroke="#000" stroke-width="1.3"/>
<line x1="401.9" y1="175.2" x2="412.9" y2="175.2" stroke="#000" stroke-width="1.35" />
<circle cx="407.4" cy="175.2" r="3.0" fill="#000" stroke="#000" stroke-width="1.3"/>
<text transform="translate(418.80,165.60) scale(1,1.06)" font-size="9.5" text-anchor="start" font-weight="normal" >-</text>
<text transform="translate(418.80,178.90) scale(1,1.06)" font-size="9.5" text-anchor="start" font-weight="normal" >LPS</text>
</g>
</svg>
</div>
</body></html>
